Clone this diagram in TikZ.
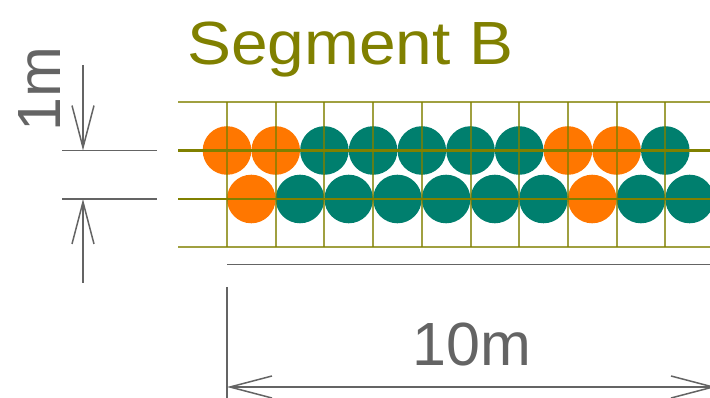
\documentclass[tikz,border=0pt]{standalone}
\usepackage{fontspec}
\setmainfont{Liberation Sans}
\usetikzlibrary{arrows.meta}
\definecolor{olv}{RGB}{128,128,0}
\definecolor{org}{RGB}{255,119,0}
\definecolor{teal2}{RGB}{0,127,110}
\definecolor{dimgray2}{RGB}{100,100,100}
\tikzset{
  ball/.style={circle, minimum size=48.6pt, inner sep=0pt, draw=none},
  ob/.style={ball, fill=org},
  tb/.style={ball, fill=teal2},
  gridthin/.style={draw=olv, opacity=0.75, line width=2pt},
  gridthick/.style={draw=olv, line width=2.3pt},
  dimline/.style={draw=dimgray2, line width=1.8pt},
  dimarrow/.style={dimline, -{Straight Barb[length=42pt,width=22pt,line width=1.5pt]}},
  bigtext/.style={font=\fontsize{61}{61}\selectfont, inner sep=0pt},
}
\begin{document}
\begin{tikzpicture}[x=1pt,y=-1pt]
\useasboundingbox (0,0) rectangle (710,398);
\clip (0,0) rectangle (710,398);
% title
\node[bigtext, text=olv, anchor=base west, xscale=1.08] (title) at (187,65) {Segment B};
% circles
\foreach \c [count=\i from 0] in {ob,ob,tb,tb,tb,tb,tb,ob,ob,tb} {
  \node[\c] (t\i) at ({227+48.7*\i},150.5) {};
}
\foreach \c [count=\i from 0] in {ob,tb,tb,tb,tb,tb,tb,ob,tb,tb} {
  \node[\c] (b\i) at ({251.3+48.7*\i},199) {};
}
% grid
\draw[gridthin] (178,102) -- (712,102);
\draw[gridthin] (178,247.5) -- (712,247.5);
\draw[gridthick] (178,150.5) -- (712,150.5);
\draw[gridthick] (178,199) -- (712,199);
\foreach \i in {0,...,9} {
  \draw[gridthin] ({227+48.7*\i},102) -- ({227+48.7*\i},247.5);
}
% left dimension
\coordinate (e1a) at (62,150.5);
\coordinate (e1b) at (157,150.5);
\coordinate (e2a) at (62,199);
\coordinate (e2b) at (157,199);
\draw[dimline] (e1a) -- (e1b);
\draw[dimline] (e2a) -- (e2b);
\coordinate (a1s) at (83,65);
\coordinate (a1t) at (83,150.5);
\coordinate (a2s) at (83,283);
\coordinate (a2t) at (83,199);
\draw[dimarrow] (a1s) -- (a1t);
\draw[dimarrow] (a2s) -- (a2t);
\node[bigtext, text=dimgray2, rotate=90] (onem) at (40,89) {1m};
% bottom dimension
\coordinate (h1) at (227,264.5);
\coordinate (h2) at (712,264.5);
\draw[dimline] (h1) -- (h2);
\coordinate (v1) at (227,287);
\coordinate (v2) at (227,400);
\draw[dimline] (v1) -- (v2);
\coordinate (d1) at (227,387);
\coordinate (d2) at (716,387);
\draw[dimline, {Straight Barb[length=42pt,width=22pt,line width=1.5pt]}-{Straight Barb[length=42pt,width=22pt,line width=1.5pt]}] (d1) -- (d2);
\node[bigtext, text=dimgray2] (tenm) at (472,344.5) {10m};
\end{tikzpicture}
\end{document}
